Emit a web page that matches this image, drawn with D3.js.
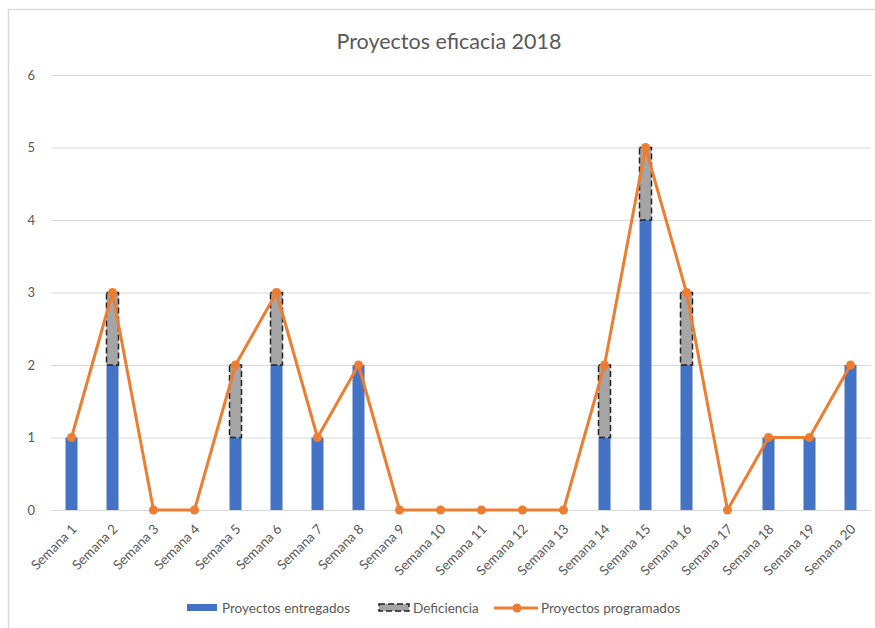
<!DOCTYPE html>
<html>
<head>
<meta charset="utf-8">
<script src="https://cdn.jsdelivr.net/npm/d3@7"></script>
<style>
  html, body { margin: 0; padding: 0; background: #fff; }
  svg { display: block; font-family: Lato, "Open Sans", sans-serif; }
</style>
</head>
<body>
<svg id="chart" width="875" height="628"></svg>
<script>
// Weekly project data for 2018
const semanas = d3.range(1, 21).map(i => "Semana " + i);
const entregados = [1, 2, 0, 0, 1, 2, 1, 2, 0, 0, 0, 0, 0, 1, 4, 2, 0, 1, 1, 2];
const programados = [1, 3, 0, 0, 2, 3, 1, 2, 0, 0, 0, 0, 0, 2, 5, 3, 0, 1, 1, 2];
const deficiencia = [0, 1, 0, 0, 1, 1, 0, 0, 0, 0, 0, 0, 0, 1, 1, 1, 0, 0, 0, 0];
const yTicks = [0, 1, 2, 3, 4, 5, 6];

const titulo = "Proyectos eficacia 2018";
const leyenda = ["Proyectos entregados", "Deficiencia", "Proyectos programados"];

const colorBarra = "#4472C4";
const colorDef = "#A5A5A5";
const colorLinea = "#ED7D31";
const colorTexto = "#595959";

const svg = d3.select("#chart");

// Outer frame
svg.append("rect")
  .attr("x", 8.5).attr("y", 9.5)
  .attr("width", 875).attr("height", 640)
  .attr("fill", "none").attr("stroke", "#d9d9d9").attr("stroke-width", 1.5);

const margin = { left: 51, right: 4, top: 75, bottom: 118 };
const W = 875, H = 628;

const x = d3.scaleBand()
  .domain(semanas)
  .range([margin.left, W - margin.right])
  .paddingInner(0)
  .paddingOuter(0);

const y = d3.scaleLinear()
  .domain([0, 6])
  .range([H - margin.bottom, margin.top]);

// Title
svg.append("text")
  .attr("x", 449).attr("y", 49)
  .attr("text-anchor", "middle")
  .attr("font-size", 21.5)
  .attr("fill", colorTexto)
  .text(titulo);

// Gridlines and y labels
const yAxis = d3.axisLeft(y).tickValues(yTicks).tickFormat(d3.format("d"))
  .tickSize(-(W - margin.right - margin.left)).tickPadding(16);
const gy = svg.append("g").attr("transform", `translate(${margin.left},0)`).call(yAxis);
gy.select(".domain").remove();
gy.selectAll(".tick line").attr("stroke", "#d9d9d9").attr("stroke-width", 1);
gy.selectAll(".tick text").attr("fill", colorTexto).attr("font-size", 13).attr("font-family", "Lato, sans-serif");

// X axis labels
const xAxis = d3.axisBottom(x).tickSize(0).tickPadding(0);
const gx = svg.append("g").attr("transform", `translate(0,${y(0)})`).call(xAxis);
gx.select(".domain").remove();
gx.selectAll(".tick text")
  .attr("fill", colorTexto)
  .attr("font-size", 13.5)
  .attr("font-family", "Lato, sans-serif")
  .attr("text-anchor", "end")
  .attr("dy", "0")
  .attr("transform", "translate(6,20) rotate(-45)");

const barW = 12;
const cx = d => x(d) + x.bandwidth() / 2;

// Delivered projects bars
svg.append("g").selectAll("rect")
  .data(semanas)
  .join("rect")
  .attr("x", (d) => cx(d) - barW / 2)
  .attr("width", barW)
  .attr("y", (d, i) => y(entregados[i]))
  .attr("height", (d, i) => y(0) - y(entregados[i]))
  .attr("fill", colorBarra);

// Deficiency stacked on top
svg.append("g").selectAll("rect")
  .data(semanas.map((s, i) => ({ s, i })).filter(o => deficiencia[o.i] > 0))
  .join("rect")
  .attr("x", o => cx(o.s) - barW / 2)
  .attr("width", barW)
  .attr("y", o => y(entregados[o.i] + deficiencia[o.i]))
  .attr("height", o => y(entregados[o.i]) - y(entregados[o.i] + deficiencia[o.i]))
  .attr("fill", colorDef)
  .attr("stroke", "#222")
  .attr("stroke-width", 1.5)
  .attr("stroke-dasharray", "6,3");

// Scheduled projects line
const line = d3.line()
  .x((d, i) => cx(semanas[i]))
  .y(d => y(d));

svg.append("path")
  .datum(programados)
  .attr("d", line)
  .attr("fill", "none")
  .attr("stroke", colorLinea)
  .attr("stroke-width", 3)
  .attr("stroke-linejoin", "round");

svg.append("g").selectAll("circle")
  .data(programados)
  .join("circle")
  .attr("cx", (d, i) => cx(semanas[i]))
  .attr("cy", d => y(d))
  .attr("r", 4.5)
  .attr("fill", colorLinea);

// Legend
const lg = svg.append("g").attr("font-size", 13.5).attr("fill", colorTexto);
const ly = 608;
lg.append("rect").attr("x", 187).attr("y", ly - 4).attr("width", 30).attr("height", 7).attr("fill", colorBarra);
lg.append("text").attr("x", 222).attr("y", ly + 5).attr("fill", colorTexto).text(leyenda[0]);

lg.append("rect").attr("x", 379).attr("y", ly - 4).attr("width", 30).attr("height", 7)
  .attr("fill", colorDef).attr("stroke", "#222").attr("stroke-width", 1.5).attr("stroke-dasharray", "6,3");
lg.append("text").attr("x", 413).attr("y", ly + 5).attr("fill", colorTexto).text(leyenda[1]);

lg.append("line").attr("x1", 494).attr("x2", 538).attr("y1", ly).attr("y2", ly)
  .attr("stroke", colorLinea).attr("stroke-width", 3);
lg.append("circle").attr("cx", 517).attr("cy", ly).attr("r", 4.5).attr("fill", colorLinea);
lg.append("text").attr("x", 541).attr("y", ly + 5).attr("fill", colorTexto).text(leyenda[2]);
</script>
</body>
</html>
